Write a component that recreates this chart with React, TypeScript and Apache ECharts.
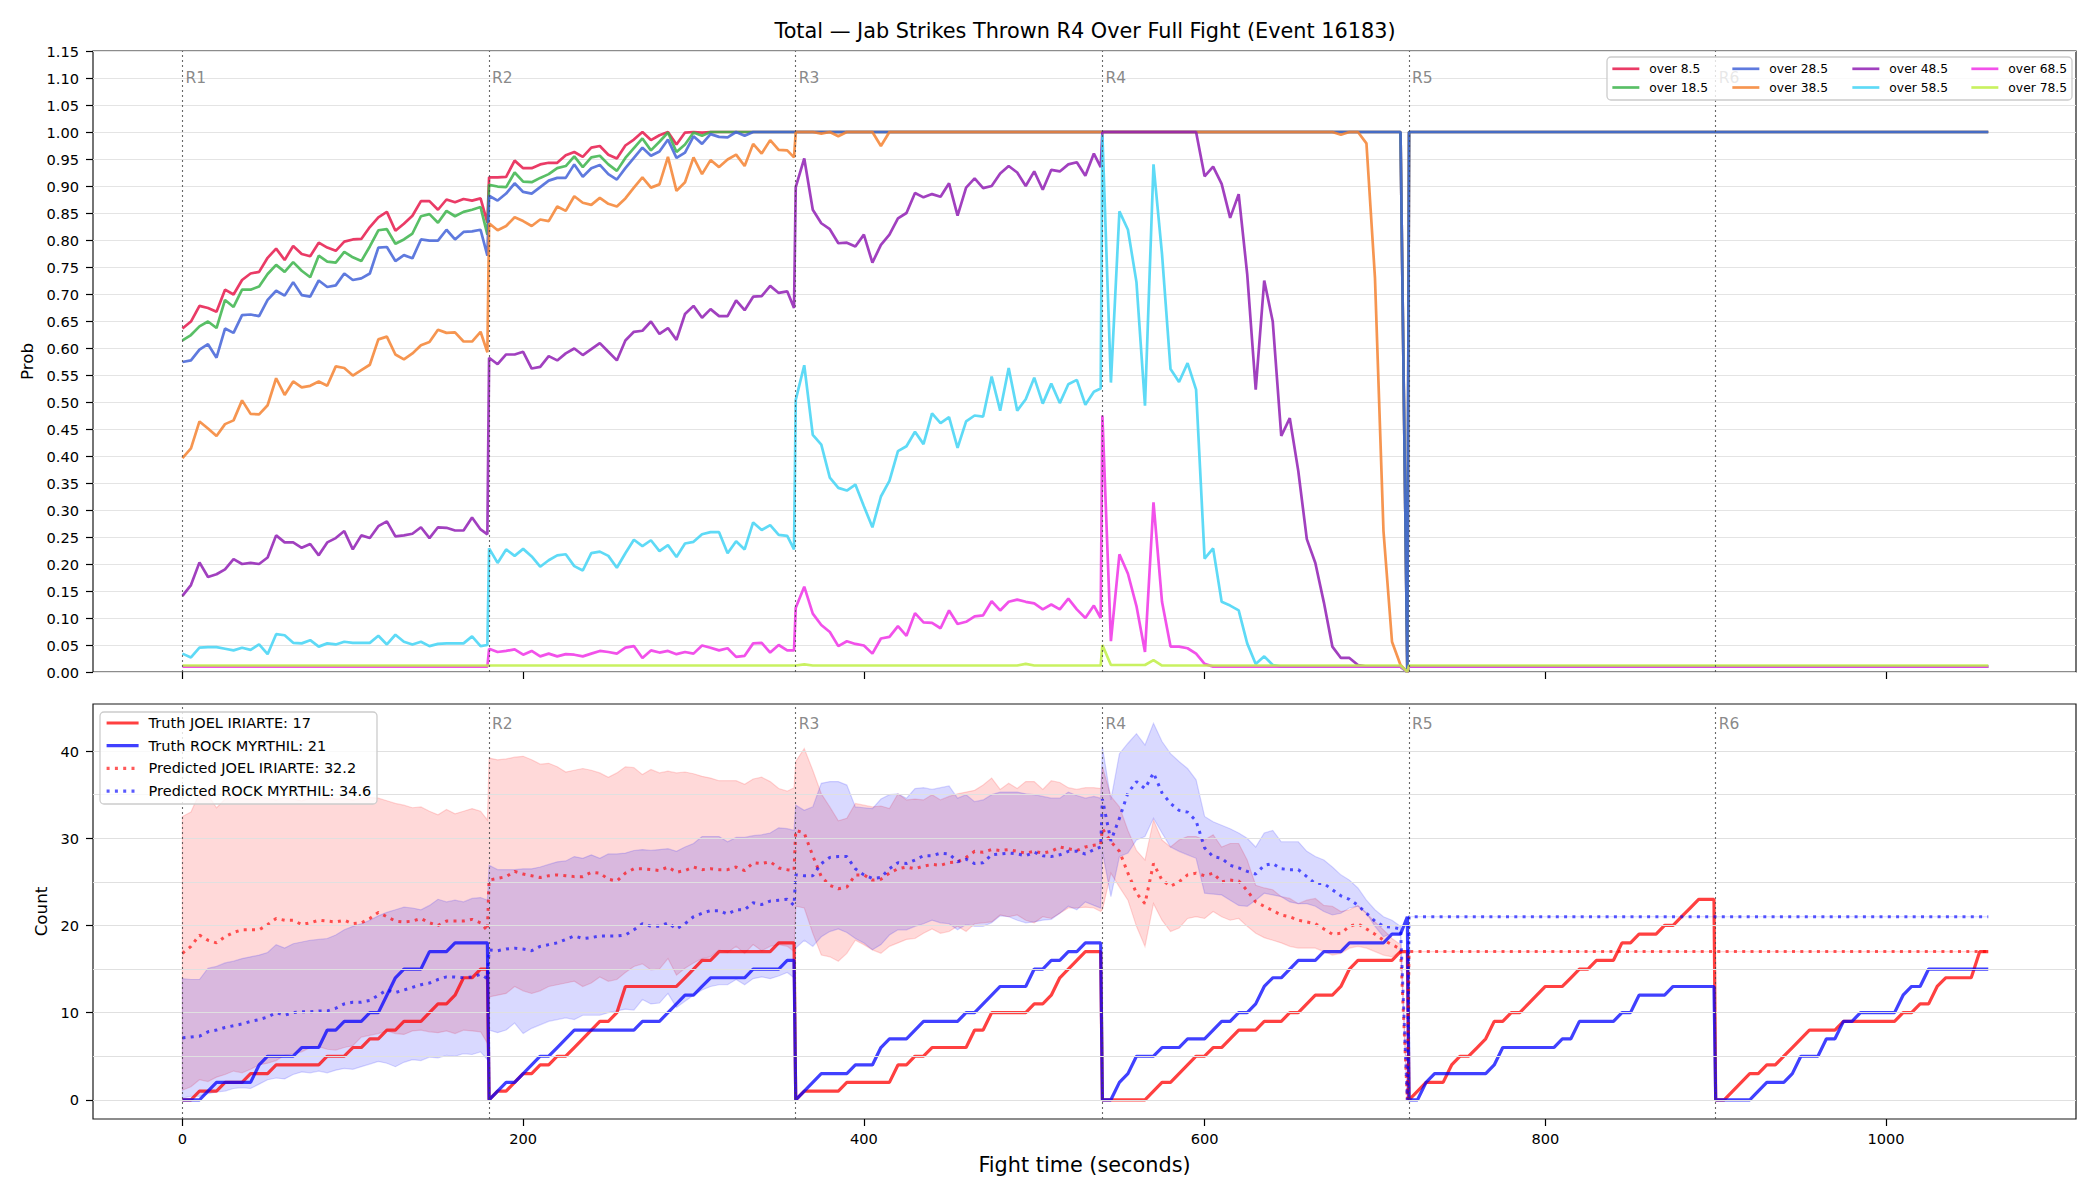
import React, { useEffect, useRef } from "react";
import * as echarts from "echarts";

const FONT = "DejaVu Sans";
const TITLE = "Total — Jab Strikes Thrown R4 Over Full Fight (Event 16183)";

// ---- time layout -------------------------------------------------------
const ROUND_STARTS = [0, 180, 360, 540, 720, 900];
const ROUND_LABELS = ["R1", "R2", "R3", "R4", "R5", "R6"];
const SAMPLE_STEP = 5;
const ROUND_CLOSE_OFFSET = 179;
const AFTER_R4_TIMES = [720, 1060];

const X_MIN = -52.5;
const X_MAX = 1111.5;
const X_TICKS = [0, 200, 400, 600, 800, 1000];
const PROB_MAX = 1.15;
const PROB_STEP = 0.05;
const COUNT_MIN = -2.2;
const COUNT_MAX = 45.4;
const COUNT_TICKS = [0, 10, 20, 30, 40];
const COUNT_GRID = [0, 5, 10, 15, 20, 25, 30, 35, 40];
const ROUND_LABEL_Y_PROB = 1.1;
const ROUND_LABEL_Y_COUNT = 43.1;

// ---- market probabilities per round (R1..R4) --------------------------
const OVER_8_5 = [
  [0.636,0.649,0.678,0.674,0.667,0.708,0.699,0.726,0.738,0.741,
   0.767,0.784,0.763,0.789,0.774,0.770,0.795,0.786,0.780,0.797,
   0.801,0.802,0.824,0.842,0.852,0.817,0.830,0.845,0.872,0.872,
   0.856,0.875,0.870,0.876,0.873,0.877,0.832],
  [0.916,0.916,0.917,0.947,0.933,0.933,0.940,0.943,0.943,0.957,
   0.963,0.954,0.971,0.974,0.958,0.951,0.975,0.986,1,0.985,
   0.994,1,0.977,0.999,1,0.999,1,1,1,1,
   1,1,1,1,1,1,1],
  [1,1,1,1,1,1,1,1,1,1, 1,1,1,1,1,1,1,1,1,1, 1,1,1,1,1,1,1,1,1,1, 1,1,1,1,1,1,1],
  [1,1,1,1,1,1,1,1,1,1, 1,1,1,1,1,1,1,1,1,1, 1,1,1,1,1,1,1,1,1,1, 1,1,1,1,1,1,0],
];
const OVER_18_5 = [
  [0.614,0.624,0.640,0.649,0.637,0.689,0.676,0.708,0.708,0.714,
   0.737,0.754,0.741,0.759,0.743,0.731,0.771,0.760,0.758,0.778,
   0.768,0.761,0.788,0.818,0.820,0.793,0.801,0.812,0.844,0.848,
   0.832,0.854,0.844,0.852,0.856,0.861,0.810],
  [0.902,0.899,0.898,0.925,0.908,0.907,0.915,0.922,0.933,0.937,
   0.955,0.935,0.953,0.956,0.940,0.928,0.952,0.970,0.988,0.966,
   0.982,0.999,0.963,0.977,0.999,0.993,1,1,1,1,
   1,1,1,1,1,1,1],
  [1,1,1,1,1,1,1,1,1,1, 1,1,1,1,1,1,1,1,1,1, 1,1,1,1,1,1,1,1,1,1, 1,1,1,1,1,1,1],
  [1,1,1,1,1,1,1,1,1,1, 1,1,1,1,1,1,1,1,1,1, 1,1,1,1,1,1,1,1,1,1, 1,1,1,1,1,1,0],
];
const OVER_28_5 = [
  [0.574,0.577,0.597,0.607,0.582,0.636,0.628,0.661,0.662,0.659,
   0.689,0.706,0.697,0.722,0.698,0.695,0.725,0.713,0.716,0.738,
   0.726,0.729,0.738,0.786,0.787,0.761,0.772,0.766,0.801,0.799,
   0.799,0.819,0.801,0.815,0.816,0.819,0.771],
  [0.882,0.873,0.886,0.905,0.889,0.886,0.898,0.910,0.915,0.915,
   0.940,0.917,0.933,0.939,0.922,0.912,0.933,0.952,0.971,0.956,
   0.964,0.986,0.952,0.962,0.992,0.978,0.996,0.991,0.990,1,
   0.993,1,1,1,1,1,1],
  [1,1,1,1,1,1,1,1,1,1, 1,1,1,1,1,1,1,1,1,1, 1,1,1,1,1,1,1,1,1,1, 1,1,1,1,1,1,1],
  [1,1,1,1,1,1,1,1,1,1, 1,1,1,1,1,1,1,1,1,1, 1,1,1,1,1,1,1,1,1,1, 1,1,1,1,1,1,0],
];
const OVER_38_5 = [
  [0.396,0.414,0.464,0.451,0.437,0.459,0.466,0.503,0.478,0.477,
   0.494,0.544,0.513,0.538,0.527,0.530,0.538,0.530,0.566,0.563,
   0.549,0.559,0.569,0.616,0.621,0.588,0.579,0.590,0.605,0.611,
   0.634,0.628,0.629,0.612,0.612,0.630,0.592],
  [0.831,0.818,0.826,0.842,0.835,0.826,0.838,0.835,0.862,0.854,
   0.881,0.869,0.865,0.878,0.867,0.862,0.877,0.897,0.916,0.897,
   0.903,0.954,0.891,0.907,0.953,0.922,0.948,0.935,0.949,0.958,
   0.937,0.978,0.960,0.985,0.967,0.966,0.953],
  [1,1,1,0.997,1,0.992,1,1,1,1,
   0.974,1,1,1,1,1,1,1,1,1,
   1,1,1,1,1,1,1,1,1,1,
   1,1,1,1,1,1,1],
  [1,1,1,1,1,1,1,1,1,1,
   1,1,1,1,1,1,1,1,1,1,
   1,1,1,1,1,1,1,1,0.995,1,
   1,0.979,0.730,0.261,0.056,0.013,0],
];
const OVER_48_5 = [
  [0.141,0.161,0.203,0.176,0.181,0.190,0.209,0.200,0.202,0.200,
   0.212,0.253,0.240,0.240,0.230,0.237,0.216,0.240,0.248,0.261,
   0.227,0.253,0.248,0.270,0.279,0.251,0.253,0.256,0.268,0.248,
   0.268,0.267,0.262,0.262,0.286,0.264,0.255],
  [0.582,0.570,0.588,0.588,0.593,0.562,0.565,0.585,0.577,0.590,
   0.599,0.587,0.598,0.609,0.593,0.577,0.614,0.630,0.632,0.649,
   0.626,0.637,0.615,0.663,0.678,0.656,0.672,0.659,0.659,0.688,
   0.670,0.695,0.696,0.715,0.702,0.705,0.674],
  [0.898,0.951,0.856,0.831,0.820,0.794,0.795,0.788,0.810,0.758,
   0.791,0.810,0.840,0.850,0.887,0.879,0.885,0.880,0.905,0.845,
   0.897,0.914,0.896,0.900,0.923,0.937,0.925,0.900,0.927,0.893,
   0.930,0.927,0.940,0.944,0.919,0.960,0.935],
  [1,1,1,1,1,1,1,1,1,1,
   1,1,0.918,0.936,0.904,0.841,0.885,0.737,0.523,0.725,
   0.649,0.437,0.470,0.372,0.246,0.202,0.129,0.047,0.026,0.026,
   0.013,0.01,0.01,0.01,0.01,0.01,0],
];
const OVER_58_5 = [
  [0.034,0.027,0.045,0.046,0.046,0.043,0.040,0.045,0.041,0.051,
   0.033,0.070,0.068,0.054,0.053,0.059,0.047,0.053,0.051,0.056,
   0.054,0.054,0.054,0.067,0.051,0.069,0.056,0.051,0.056,0.048,
   0.052,0.053,0.053,0.053,0.066,0.048,0.050],
  [0.229,0.202,0.227,0.215,0.228,0.214,0.195,0.207,0.216,0.218,
   0.196,0.188,0.220,0.223,0.215,0.193,0.220,0.245,0.233,0.244,
   0.224,0.235,0.213,0.238,0.241,0.255,0.259,0.259,0.220,0.242,
   0.227,0.277,0.263,0.272,0.254,0.252,0.227],
  [0.504,0.568,0.439,0.421,0.360,0.341,0.336,0.347,0.307,0.268,
   0.325,0.354,0.409,0.418,0.445,0.422,0.479,0.461,0.472,0.415,
   0.464,0.475,0.473,0.547,0.484,0.563,0.484,0.505,0.545,0.497,
   0.534,0.498,0.533,0.541,0.495,0.519,0.525],
  [0.995,0.536,0.853,0.819,0.722,0.493,0.940,0.774,0.561,0.537,
   0.572,0.523,0.210,0.229,0.130,0.123,0.114,0.053,0.015,0.029,
   0.013,0.01,0.01,0.01,0.01,0.01,0.01,0.01,0.01,0.01,
   0.01,0.01,0.01,0.01,0.01,0.01,0],
];
const OVER_68_5 = [
  [0.01,0.01,0.01,0.01,0.01,0.01,0.01,0.01,0.01,0.01,
   0.01,0.01,0.01,0.01,0.01,0.01,0.01,0.01,0.01,0.01,
   0.01,0.01,0.01,0.01,0.01,0.01,0.01,0.01,0.01,0.01,
   0.01,0.01,0.01,0.01,0.01,0.01,0.01],
  [0.043,0.037,0.039,0.042,0.032,0.039,0.029,0.034,0.029,0.033,
   0.032,0.029,0.034,0.039,0.037,0.034,0.045,0.048,0.026,0.040,
   0.036,0.039,0.033,0.037,0.034,0.049,0.045,0.040,0.044,0.028,
   0.030,0.053,0.054,0.036,0.050,0.040,0.040],
  [0.119,0.158,0.108,0.087,0.074,0.048,0.057,0.052,0.049,0.034,
   0.062,0.065,0.085,0.067,0.109,0.092,0.091,0.081,0.114,0.089,
   0.093,0.103,0.105,0.131,0.114,0.130,0.134,0.130,0.127,0.116,
   0.125,0.116,0.136,0.116,0.100,0.123,0.100],
  [0.475,0.057,0.218,0.182,0.122,0.037,0.314,0.130,0.047,0.047,
   0.044,0.034,0.015,0.01,0.01,0.01,0.01,0.01,0.01,0.01,
   0.01,0.01,0.01,0.01,0.01,0.01,0.01,0.01,0.01,0.01,
   0.01,0.01,0.01,0.01,0.01,0.01,0],
];
const OVER_78_5 = [
  [0.012,0.012,0.012,0.012,0.012,0.012,0.012,0.012,0.012,0.012,
   0.012,0.012,0.012,0.012,0.012,0.012,0.012,0.012,0.012,0.012,
   0.012,0.012,0.012,0.012,0.012,0.012,0.012,0.012,0.012,0.012,
   0.012,0.012,0.012,0.012,0.012,0.012,0.012],
  [0.012,0.012,0.012,0.012,0.012,0.012,0.012,0.012,0.012,0.012,
   0.012,0.012,0.012,0.012,0.012,0.012,0.012,0.012,0.012,0.012,
   0.012,0.012,0.012,0.012,0.012,0.012,0.012,0.012,0.012,0.012,
   0.012,0.012,0.012,0.012,0.012,0.012,0.012],
  [0.012,0.014,0.012,0.012,0.012,0.012,0.012,0.012,0.012,0.012,
   0.012,0.012,0.012,0.012,0.012,0.012,0.012,0.012,0.012,0.012,
   0.012,0.012,0.012,0.012,0.012,0.012,0.012,0.015,0.012,0.012,
   0.012,0.012,0.012,0.012,0.012,0.012,0.012],
  [0.050,0.013,0.013,0.013,0.013,0.013,0.022,0.012,0.012,0.012,
   0.012,0.012,0.012,0.012,0.012,0.012,0.012,0.012,0.012,0.012,
   0.012,0.012,0.012,0.012,0.012,0.012,0.012,0.012,0.012,0.012,
   0.012,0.012,0.012,0.012,0.012,0.012,0],
];
// settled level of each market from R5 to the end of the fight
const TOP_AFTER_R4 = [1, 1, 1, 0.01, 0.01, 0.01, 0.01, 0.012];

const TOP_NAMES = ["over 8.5", "over 18.5", "over 28.5", "over 38.5", "over 48.5", "over 58.5", "over 68.5", "over 78.5"];
const TOP_COLORS = ["#e6194b", "#3cb44b", "#4363d8", "#f58231", "#911eb4", "#42d4f4", "#f032e6", "#bfef45"];
const TOP_VALUES = [OVER_8_5, OVER_18_5, OVER_28_5, OVER_38_5, OVER_48_5, OVER_58_5, OVER_68_5, OVER_78_5];
const TOP_LEGEND_COLUMNS = [
  ["over 8.5", "over 18.5"],
  ["over 28.5", "over 38.5"],
  ["over 48.5", "over 58.5"],
  ["over 68.5", "over 78.5"],
];

// ---- per-round counts (R1..R6) ----------------------------------------
const TRUTH_JOEL = [
  [0,0,1,1,1,2,2,2,3,3, 3,4,4,4,4,4,4,5,5,5, 6,6,7,7,8,8,9,9,9,10, 11,11,12,14,14,15,15],
  [0,1,1,2,3,3,4,4,5,5, 6,7,8,9,9,10,13,13,13,13, 13,13,13,14,15,16,16,17,17,17, 17,17,17,17,18,18,18],
  [0,1,1,1,1,1,2,2,2,2, 2,2,4,4,5,5,6,6,6,6, 6,8,8,10,10,10,10,10,11,11, 12,14,15,16,17,17,17],
  [0,0,0,0,0,0,1,2,2,3, 4,5,5,6,6,7,8,8,8,9, 9,9,10,10,11,12,12,12,13,15, 16,16,16,16,16,17,17],
  [0,1,2,2,2,4,5,5,6,7, 9,9,10,10,11,12,13,13,13,14, 15,15,16,16,16,18,18,19,19,19, 20,20,21,22,23,23,23],
  [0,0,1,2,3,3,4,4,5,6, 7,8,8,8,8,9,9,9,9,9, 9,9,10,10,11,11,13,14,14,14, 14,17,17],
];
const TRUTH_ROCK = [
  [0,0,0,1,2,2,2,2,2,4, 5,5,5,5,6,6,6,8,8,9, 9,9,10,10,12,14,15,15,15,17, 17,17,18,18,18,18,18],
  [0,1,2,2,3,4,5,5,6,7, 8,8,8,8,8,8,8,8,9,9, 9,10,11,12,12,13,14,14,14,14, 14,15,15,15,15,16,16],
  [0,1,2,3,3,3,3,4,4,4, 6,7,7,7,8,9,9,9,9,9, 10,10,11,12,13,13,13,13,15,15, 16,16,17,17,18,18,18],
  [0,0,2,3,5,5,5,6,6,6, 7,7,7,8,9,9,10,10,11,13, 14,14,15,16,16,16,17,17,17,18, 18,18,18,18,19,19,21],
  [0,0,2,3,3,3,3,3,3,3, 4,6,6,6,6,6,6,6,7,7, 9,9,9,9,9,10,10,12,12,12, 12,13,13,13,13,13,13],
  [0,0,0,0,0,1,2,2,2,3, 5,5,5,7,7,9,9,10,10,10, 10,10,12,13,13,15,15,15,15,15, 15,15,15],
];

// ---- model prediction and its band (R1..R4) ---------------------------
const PRED_JOEL = [
  [16.8,17.6,18.9,18.3,18.0,18.7,19.2,19.5,19.5,19.5, 20.1,20.8,20.6,20.6,20.1,20.3,20.6,20.5,20.4,20.6,
   20.2,20.3,20.8,21.5,21.0,20.5,20.4,20.5,20.8,20.3, 20.0,20.5,20.5,20.5,20.7,20.3,19.4],
  [25.2,25.4,25.6,26.2,25.9,25.7,25.5,25.7,25.8,25.7, 25.6,25.6,26.1,26.0,25.3,25.1,26.0,26.5,26.5,26.4,
   26.3,26.7,26.1,26.3,26.7,26.4,26.5,26.4,26.4,26.7, 26.3,27.2,27.1,27.3,26.6,26.4,26.3],
  [30.9,30.6,28.0,25.6,24.6,24.2,24.4,25.8,25.8,25.2, 25.3,26.0,26.5,26.7,26.5,26.8,27.0,26.9,27.2,27.3,
   27.8,28.5,28.4,28.7,28.6,28.7,28.5,28.3,28.5,28.3, 28.5,29.0,28.8,28.6,29.0,29.2,29.3],
  [31.1,29.6,28.5,26.0,23.7,22.5,27.1,25.2,24.5,25.0, 25.8,26.0,25.7,26.0,25.0,25.2,25.1,24.0,22.7,22.2,
   21.7,21.2,21.0,20.6,20.4,20.2,19.6,19.0,19.1,19.9, 20.2,19.6,19.0,18.3,17.8,17.3,0],
];
const PRED_ROCK = [
  [7.1,7.2,7.3,7.8,8.0,8.3,8.5,8.7,9.0,9.2, 9.5,10.0,9.7,10.0,10.1,10.1,10.2,10.2,10.5,11.0,
   11.2,11.2,11.4,12.0,12.6,12.3,12.6,12.9,13.2,13.4, 13.8,14.1,14.1,14.0,14.1,14.4,13.9],
  [17.2,17.1,17.3,17.4,17.3,17.1,17.6,17.8,18.0,18.4, 18.8,18.5,18.6,18.8,18.8,18.8,18.9,19.5,20.2,19.9,
   19.9,20.3,19.6,20.2,21.0,21.4,21.7,21.7,21.3,21.8, 21.8,22.6,22.4,22.8,22.9,23.0,22.3],
  [25.8,25.7,25.7,27.1,27.8,27.9,27.9,26.5,25.8,25.4, 25.5,26.5,27.2,27.1,27.5,28.0,28.0,28.3,28.2,27.3,
   27.6,27.1,27.2,28.1,28.2,28.3,28.2,28.0,28.4,28.0, 27.9,28.1,28.5,28.5,28.2,28.7,29.0],
  [34.5,29.7,32.3,35.2,36.5,35.7,37.5,35.2,34.0,33.2, 33.0,32.0,28.9,27.9,27.7,26.9,26.6,26.2,25.9,26.9,
   27.1,26.5,26.4,26.4,25.6,24.8,24.8,24.1,23.4,23.0, 22.3,21.4,20.5,19.9,19.8,19.6,0],
];
const JOEL_HIGH = [
  [32.5,33.0,35.2,35.0,33.5,34.5,34.8,34.6,34.5,34.8, 34.6,34.4,34.7,34.5,34.3,34.6,34.5,34.8,34.5,34.6,
   34.4,34.6,34.7,34.6,34.3,34.0,33.8,33.5,33.6,33.1, 32.7,33.3,32.8,33.1,33.4,33.1,32.1],
  [39.2,39.0,39.1,39.3,39.4,39.0,38.5,38.6,38.2,37.6, 37.8,38.0,37.8,37.5,37.0,37.5,38.2,38.1,37.3,37.9,
   37.5,37.7,37.5,37.6,37.4,37.1,36.9,36.6,36.6,36.6, 36.2,36.8,37.0,36.5,35.7,35.4,35.8],
  [38.8,40.3,37.8,35.1,33.6,32.0,32.3,34.0,33.8,33.6, 33.7,33.4,35.1,34.4,34.5,34.4,35.0,34.4,34.8,35.1,
   35.3,35.5,36.1,36.9,35.6,36.3,35.7,36.5,36.5,35.6, 36.6,36.4,35.8,35.6,35.8,35.8,35.7],
  [38.2,34.8,33.6,30.9,28.6,27.5,32.1,29.8,29.0,29.8, 30.2,30.2,29.8,30.4,29.0,29.4,29.4,27.5,24.6,24.3,
   24.1,23.3,23.1,22.5,22.9,23.1,22.3,22.2,21.6,21.8, 22.3,21.4,20.4,19.5,18.5,17.8,0],
];
const JOEL_LOW = [
  [1.1,1.5,2.3,2.1,2.6,2.9,3.3,3.1,3.5,4.0, 4.2,4.5,5.1,5.3,5.5,6.0,6.1,5.8,5.7,6.0,
   6.2,7.2,7.4,7.6,7.9,7.6,7.5,7.9,8.0,7.8, 7.7,7.9,7.6,8.0,7.9,7.8,6.5],
  [11.8,12.0,12.2,13.0,12.5,12.2,12.5,13.0,13.2,13.4, 13.6,13.0,13.4,14.1,13.6,13.8,14.6,15.3,15.6,14.9,
   15.0,16.2,14.3,15.1,15.7,16.2,16.4,17.2,16.9,17.6, 16.8,17.8,17.1,17.6,17.8,17.6,17.0],
  [22.2,22.0,19.1,16.6,16.4,15.9,16.8,18.3,17.8,17.2, 16.8,17.6,18.0,18.4,18.5,19.1,19.6,19.1,19.3,19.9,
   19.3,20.2,20.3,20.4,21.2,21.0,21.2,20.6,20.3,21.0, 20.8,21.4,22.0,22.0,22.1,22.0,21.6],
  [21.8,26.0,24.4,22.9,19.9,17.6,22.5,20.6,19.3,19.7, 20.8,21.0,20.8,21.6,21.0,20.6,20.8,19.9,19.1,18.6,
   18.3,18.0,17.6,17.4,17.4,17.4,17.0,16.6,16.8,17.4, 17.6,17.4,17.0,16.6,16.4,17.0,0],
];
const ROCK_HIGH = [
  [13.9,13.8,13.8,15.1,15.3,15.7,15.9,16.2,16.4,16.6, 16.9,17.8,17.4,17.9,18.1,18.3,18.4,18.5,18.9,19.5,
   19.9,20.2,20.6,21.1,21.5,21.8,22.1,22.0,21.8,22.3, 23.0,22.7,22.9,22.7,23.1,23.2,22.9],
  [26.9,26.4,26.4,26.4,26.5,26.5,26.7,27.0,27.3,27.4, 27.9,27.7,28.1,27.7,28.2,28.2,28.3,28.6,28.7,28.6,
   28.7,28.8,28.5,29.0,29.4,30.2,30.2,30.2,29.6,30.1, 30.1,30.3,30.4,30.6,31.2,31.1,30.9],
  [33.8,33.2,33.6,36.3,36.5,36.5,36.1,33.6,33.5,33.4, 34.5,35.0,35.1,34.6,35.7,35.8,35.6,35.8,36.0,34.6,
   35.0,34.2,34.4,35.0,35.3,35.3,35.3,35.1,35.0,34.8, 34.6,34.6,35.3,34.9,34.6,34.8,34.6],
  [40.5,34.4,39.7,40.9,42.0,40.7,43.2,41.1,39.7,38.8, 38.0,36.7,32.5,31.9,31.5,31.1,30.6,30.0,29.0,30.6,
   30.9,29.6,29.6,29.6,28.5,27.9,27.5,26.7,25.8,25.2, 24.3,22.9,21.8,21.0,20.6,19.9,0],
];
const ROCK_LOW = [
  [0.2,0.4,0.4,0.7,0.9,1.0,1.3,1.4,1.3,1.8, 2.3,2.5,2.4,2.9,3.2,3.1,3.3,3.1,3.4,3.6,
   3.5,3.8,4.1,4.4,4.2,3.8,4.3,4.6,4.5,4.9, 4.8,5.1,5.0,5.3,5.2,5.5,4.6],
  [8.0,7.7,8.0,8.8,7.6,8.2,8.6,9.0,9.2,9.4, 9.2,9.7,9.7,9.7,10.0,10.2,10.4,10.3,11.5,11.0,
   11.1,12.2,10.6,11.3,12.0,12.6,13.0,13.2,13.2,13.8, 13.2,13.9,14.1,13.9,14.2,14.6,14.0],
  [17.4,18.3,17.6,18.7,19.3,19.6,19.2,18.5,18.0,17.2, 17.8,18.9,19.5,19.5,19.9,20.2,20.6,20.3,20.2,19.5,
   20.1,19.9,19.9,20.3,21.1,21.0,20.6,20.3,20.4,20.6, 20.7,21.4,22.2,21.8,22.7,22.3,22.0],
  [28.5,23.3,27.9,28.3,29.8,30.2,32.3,30.6,29.0,28.5, 28.1,27.7,23.7,23.6,23.5,22.9,22.3,22.2,22.9,23.7,
   23.5,23.3,22.7,22.5,22.5,22.2,21.6,21.2,21.4,22.0, 22.2,21.4,19.9,18.7,19.1,18.9,0],
];
// prediction locks onto the settled totals once R4 is over
const PRED_AFTER_R4 = [17, 21];

const BOTTOM_NAMES = [
  "Truth JOEL IRIARTE: 17",
  "Truth ROCK MYRTHIL: 21",
  "Predicted JOEL IRIARTE: 32.2",
  "Predicted ROCK MYRTHIL: 34.6",
];

// ---- helpers -----------------------------------------------------------
function roundTimes(r: number, n: number): number[] {
  const s = ROUND_STARTS[r];
  const out: number[] = [];
  for (let i = 0; i < n; i++) {
    if (r < 5 && i === n - 1) out.push(s + ROUND_CLOSE_OFFSET);
    else out.push(s + i * SAMPLE_STEP);
  }
  return out;
}

function toPoints(rounds: number[][], after?: number): number[][] {
  const pts: number[][] = [];
  rounds.forEach((vals, r) => {
    const t = roundTimes(r, vals.length);
    vals.forEach((v, i) => pts.push([t[i], v]));
  });
  if (after !== undefined) AFTER_R4_TIMES.forEach((t) => pts.push([t, after]));
  return pts;
}

function bandSeries(upper: number[][], lower: number[][], rgb: string) {
  return {
    type: "custom",
    xAxisIndex: 1,
    yAxisIndex: 1,
    z: 1,
    silent: true,
    clip: true,
    data: [[0, 0]],
    renderItem: (_params: any, api: any) => {
      const pts = upper
        .map((p) => api.coord(p))
        .concat(lower.slice().reverse().map((p) => api.coord(p)));
      return {
        type: "polygon",
        shape: { points: pts },
        style: { fill: `rgba(${rgb},0.15)`, stroke: `rgba(${rgb},0.15)`, lineWidth: 1.2 },
      };
    },
  };
}

// dotted round separators plus their "Rn" captions; the lower panel's R1
// caption sits under the legend box, so it is left out there
function roundMarkers(xi: number, y: number, firstLabel: number) {
  return {
    type: "scatter",
    xAxisIndex: xi,
    yAxisIndex: xi,
    z: 5,
    silent: true,
    symbolSize: 0,
    data: ROUND_STARTS.map((s, i) => [s, y, ROUND_LABELS[i]]).slice(firstLabel),
    label: {
      show: true,
      position: "right",
      distance: 3,
      formatter: (p: any) => p.value[2],
      color: "#6a6a6a",
      fontSize: 15.5,
      fontFamily: FONT,
    },
    markLine: {
      silent: true,
      symbol: ["none", "none"],
      label: { show: false },
      lineStyle: { color: "#444", type: [2, 3], width: 1.1, opacity: 0.8 },
      data: ROUND_STARTS.map((s) => ({ xAxis: s })),
    },
  };
}

function buildOption(): any {
  const tickStyle = { color: "#000", width: 1.2 };
  const xCommon = {
    type: "value",
    min: X_MIN,
    max: X_MAX,
    axisLine: { show: false, onZero: false },
    splitLine: { show: false },
    axisTick: { show: true, customValues: X_TICKS, length: 7, lineStyle: tickStyle },
  };

  const topSeries = TOP_VALUES.map((rounds, k) => ({
    type: "line",
    name: TOP_NAMES[k],
    xAxisIndex: 0,
    yAxisIndex: 0,
    z: 3,
    silent: true,
    symbol: "none",
    data: toPoints(rounds, TOP_AFTER_R4[k]),
    lineStyle: { color: TOP_COLORS[k], width: 2.7, opacity: 0.85 },
    itemStyle: { color: TOP_COLORS[k] },
  }));

  const truthLine = (name: string, rounds: number[][], color: string) => ({
    type: "line",
    name,
    xAxisIndex: 1,
    yAxisIndex: 1,
    z: 3,
    silent: true,
    symbol: "none",
    data: toPoints(rounds),
    lineStyle: { color, width: 3.2, opacity: 0.75 },
    itemStyle: { color },
  });
  const predLine = (name: string, rounds: number[][], after: number, color: string) => ({
    type: "line",
    name,
    xAxisIndex: 1,
    yAxisIndex: 1,
    z: 3,
    silent: true,
    symbol: "none",
    data: toPoints(rounds, after),
    lineStyle: { color, width: 3, opacity: 0.65, type: [3, 5.3], cap: "butt" },
    itemStyle: { color },
  });

  const legendCommon = {
    orient: "vertical",
    padding: 0,
    selectedMode: false,
    z: 11,
    itemStyle: { opacity: 0 },
  };

  return {
    animation: false,
    backgroundColor: "#fff",
    textStyle: { fontFamily: FONT },
    grid: [
      { left: 93, top: 51, width: 1983, height: 621, show: true, borderColor: "#1a1a1a", borderWidth: 1.2 },
      { left: 93, top: 704, width: 1983, height: 415, show: true, borderColor: "#1a1a1a", borderWidth: 1.2 },
    ],
    xAxis: [
      { ...xCommon, gridIndex: 0, axisLabel: { show: false } },
      {
        ...xCommon,
        gridIndex: 1,
        axisLabel: {
          customValues: X_TICKS,
          formatter: (v: number) => String(v),
          fontSize: 14.6,
          color: "#000",
          margin: 12,
          fontFamily: FONT,
        },
        name: "Fight time (seconds)",
        nameLocation: "middle",
        nameGap: 35,
        nameTextStyle: { fontSize: 20.8, color: "#000", fontFamily: FONT },
      },
    ],
    yAxis: [
      {
        gridIndex: 0,
        type: "value",
        min: 0,
        max: PROB_MAX,
        interval: PROB_STEP,
        axisLine: { show: false, onZero: false },
        axisTick: { show: true, length: 7, lineStyle: tickStyle },
        axisLabel: {
          formatter: (v: number) => v.toFixed(2),
          fontSize: 14.6,
          color: "#000",
          margin: 14,
          fontFamily: FONT,
        },
        splitLine: { show: true, lineStyle: { color: "#e4e4e4", width: 1 } },
        name: "Prob",
        nameLocation: "middle",
        nameGap: 57,
        nameRotate: 90,
        nameTextStyle: { fontSize: 16.7, color: "#000", fontFamily: FONT },
      },
      {
        gridIndex: 1,
        type: "value",
        min: COUNT_MIN,
        max: COUNT_MAX,
        axisLine: { show: false, onZero: false },
        axisTick: { show: true, customValues: COUNT_TICKS, length: 7, lineStyle: tickStyle },
        axisLabel: {
          customValues: COUNT_TICKS,
          formatter: (v: number) => String(v),
          fontSize: 14.6,
          color: "#000",
          margin: 14,
          fontFamily: FONT,
        },
        splitLine: { show: false },
        name: "Count",
        nameLocation: "middle",
        nameGap: 43,
        nameRotate: 90,
        nameTextStyle: { fontSize: 16.7, color: "#000", fontFamily: FONT },
      },
    ],
    legend: [
      ...TOP_LEGEND_COLUMNS.map((names, i) => ({
        ...legendCommon,
        data: names,
        left: [1611, 1731, 1851, 1970][i],
        top: 62.8,
        itemWidth: 27,
        itemHeight: 12,
        itemGap: 6.7,
        lineStyle: { width: 2.7 },
        textStyle: { fontSize: 12.3, color: "#000", fontFamily: FONT, padding: [0, 0, 0, 5] },
      })),
      {
        ...legendCommon,
        data: BOTTOM_NAMES,
        left: 105,
        top: 715.5,
        itemWidth: 32,
        itemHeight: 15,
        itemGap: 7.7,
        lineStyle: { width: 3.2 },
        textStyle: { fontSize: 14.5, color: "#000", fontFamily: FONT, padding: [0, 0, 0, 5] },
      },
    ],
    graphic: {
      elements: [
        {
          type: "text",
          x: 1085,
          y: 31,
          z: 12,
          style: {
            text: TITLE,
            fill: "#000",
            fontSize: 20.8,
            fontFamily: FONT,
            align: "center",
            verticalAlign: "middle",
            textAlign: "center",
            textVerticalAlign: "middle",
          },
        },
        {
          type: "rect",
          z: 10,
          shape: { x: 1607, y: 57, width: 465, height: 43, r: 4 },
          style: { fill: "rgba(255,255,255,0.8)", stroke: "#cccccc", lineWidth: 1.3 },
        },
        {
          type: "rect",
          z: 10,
          shape: { x: 100, y: 712, width: 277, height: 92, r: 4 },
          style: { fill: "rgba(255,255,255,0.8)", stroke: "#cccccc", lineWidth: 1.3 },
        },
      ],
    },
    series: [
      ...topSeries,
      roundMarkers(0, ROUND_LABEL_Y_PROB, 0),
      bandSeries(toPoints(JOEL_HIGH, PRED_AFTER_R4[0]), toPoints(JOEL_LOW, PRED_AFTER_R4[0]), "255,0,0"),
      bandSeries(toPoints(ROCK_HIGH, PRED_AFTER_R4[1]), toPoints(ROCK_LOW, PRED_AFTER_R4[1]), "0,0,255"),
      {
        type: "line",
        xAxisIndex: 1,
        yAxisIndex: 1,
        z: 2,
        silent: true,
        symbol: "none",
        data: [],
        markLine: {
          silent: true,
          symbol: ["none", "none"],
          label: { show: false },
          lineStyle: { color: "#e0e0e0", type: "solid", width: 1 },
          data: COUNT_GRID.map((v) => ({ yAxis: v })),
        },
      },
      truthLine(BOTTOM_NAMES[0], TRUTH_JOEL, "#ff0000"),
      truthLine(BOTTOM_NAMES[1], TRUTH_ROCK, "#0000ff"),
      predLine(BOTTOM_NAMES[2], PRED_JOEL, PRED_AFTER_R4[0], "#ff0000"),
      predLine(BOTTOM_NAMES[3], PRED_ROCK, PRED_AFTER_R4[1], "#0000ff"),
      roundMarkers(1, ROUND_LABEL_Y_COUNT, 1),
    ],
  };
}

export default function App() {
  const ref = useRef<HTMLDivElement>(null);
  useEffect(() => {
    if (!ref.current) return;
    const chart = echarts.init(ref.current, null, { renderer: "svg" });
    chart.setOption(buildOption());
    return () => chart.dispose();
  }, []);
  return (
    <div
      ref={ref}
      style={{ position: "absolute", left: 0, top: 0, width: 2100, height: 1200, background: "#fff" }}
    />
  );
}
